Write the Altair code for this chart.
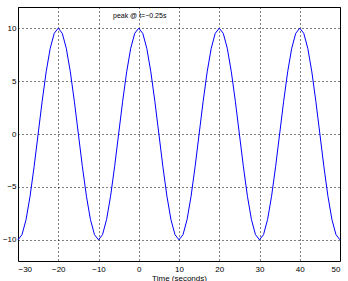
import altair as alt
import pandas as pd

# time samples (seconds)
t = list(range(-30, 51))
# signal values (cosine-like, amplitude 10, period 20)
y = [-10.0, -9.51, -8.09, -5.88, -3.09, 0.0, 3.09, 5.88, 8.09, 9.51,
     10.0, 9.51, 8.09, 5.88, 3.09, 0.0, -3.09, -5.88, -8.09, -9.51,
     -10.0, -9.51, -8.09, -5.88, -3.09, 0.0, 3.09, 5.88, 8.09, 9.51,
     10.0, 9.51, 8.09, 5.88, 3.09, 0.0, -3.09, -5.88, -8.09, -9.51,
     -10.0, -9.51, -8.09, -5.88, -3.09, 0.0, 3.09, 5.88, 8.09, 9.51,
     10.0, 9.51, 8.09, 5.88, 3.09, 0.0, -3.09, -5.88, -8.09, -9.51,
     -10.0, -9.51, -8.09, -5.88, -3.09, 0.0, 3.09, 5.88, 8.09, 9.51,
     10.0, 9.51, 8.09, 5.88, 3.09, 0.0, -3.09, -5.88, -8.09, -9.51,
     -10.0]

x_ticks = [-30, -20, -10, 0, 10, 20, 30, 40, 50]
y_ticks = [-10, -5, 0, 5, 10]

ann_x = [-6.4]
ann_y = [11.15]
ann_text = ["peak @ t=\u22120.25s"]

df = pd.DataFrame({"t": t, "y": y})
ann = pd.DataFrame({"x": ann_x, "y": ann_y, "label": ann_text})

FONT = "Liberation Sans"

x_enc = alt.X("t:Q", scale=alt.Scale(domain=[-30, 50], nice=False, zero=False),
              axis=alt.Axis(values=x_ticks, title="Time (seconds)", grid=True,
                            gridColor="black", gridDash=[1, 3], gridWidth=1, gridOpacity=1,
                            domain=False, ticks=False, labelPadding=4,
                            labelFontSize=8, labelFont=FONT, labelColor="black",
                            titleFontSize=8, titleFont=FONT, titleFontWeight="normal",
                            titleColor="black", titlePadding=1))
y_enc = alt.Y("y:Q", scale=alt.Scale(domain=[-12, 12], nice=False, zero=False),
              axis=alt.Axis(values=y_ticks, title=None, grid=True,
                            gridColor="black", gridDash=[1, 3], gridWidth=1, gridOpacity=1,
                            domain=False, ticks=False, labelPadding=2,
                            labelFontSize=8, labelFont=FONT, labelColor="black"))

line = alt.Chart(df).mark_line(color="#0000ff", strokeWidth=1).encode(x=x_enc, y=y_enc)

text = alt.Chart(ann).mark_text(align="left", baseline="middle", fontSize=7,
                                font=FONT, color="black").encode(
    x=alt.X("x:Q"), y=alt.Y("y:Q"), text="label:N")

chart = (line + text).properties(
    width=322, height=254,
    autosize=alt.AutoSizeParams(type="none"),
    padding={"left": 18, "top": 7, "right": 8, "bottom": 20},
    background="white",
).configure_view(stroke="black", strokeWidth=1)

chart.save("out.html", embed_options={"renderer": "svg", "actions": False})
